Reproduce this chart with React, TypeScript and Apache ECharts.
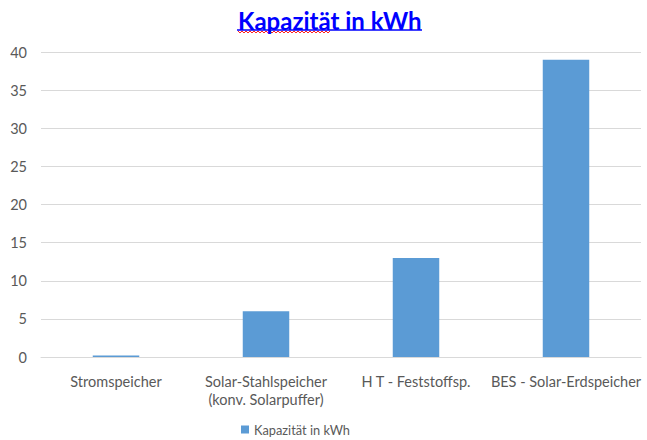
import React, { useEffect, useRef } from "react";
import * as echarts from "echarts";

const categories = [
  "Stromspeicher",
  "Solar-Stahlspeicher\n(konv. Solarpuffer)",
  "H T - Feststoffsp.",
  "BES - Solar-Erdspeicher",
];
const values = [0.2, 6, 13, 39];
const seriesName = "Kapazität in kWh";
const titleText = "Kapazität in kWh";

export default function App() {
  const ref = useRef<HTMLDivElement>(null);
  useEffect(() => {
    document.body.style.margin = "0";
    if (!ref.current) return;
    const chart = echarts.init(ref.current, null, { renderer: "svg" });
    const font = "Lato, 'Open Sans', sans-serif";
    const squiggle: number[][] = [];
    for (let i = 0; i <= 46; i++) squiggle.push([238 + i * 2, i % 2 === 0 ? 31 : 33]);
    chart.setOption({
      animation: false,
      title: {
        text: titleText,
        left: 233,
        top: 3,
        textStyle: { color: "#0000FF", fontSize: 24, fontWeight: "bold", fontFamily: font },
      },
      graphic: [
        { type: "line", shape: { x1: 237, y1: 30, x2: 422, y2: 30 }, style: { stroke: "#0000FF", lineWidth: 1.5 } },
        { type: "polyline", shape: { points: squiggle }, style: { stroke: "#FF2020", lineWidth: 1, fill: null } },
      ],
      grid: { left: 41, right: 6, top: 52, bottom: 83 },
      legend: {
        bottom: 4,
        left: 241,
        padding: 0,
        itemWidth: 8,
        itemHeight: 8,
        icon: "rect",
        itemGap: 4,
        textStyle: { color: "#595959", fontSize: 12.8, fontFamily: font },
        data: [seriesName],
      },
      xAxis: {
        type: "category",
        data: categories,
        axisLine: { lineStyle: { color: "#D9D9D9" } },
        axisTick: { show: false },
        axisLabel: { color: "#595959", fontSize: 14.5, fontFamily: font, margin: 15, lineHeight: 18, interval: 0 },
      },
      yAxis: {
        type: "value",
        min: 0,
        max: 40,
        interval: 5,
        axisLine: { show: false },
        axisTick: { show: false },
        splitLine: { lineStyle: { color: "#D9D9D9" } },
        axisLabel: { color: "#595959", fontSize: 14.5, fontFamily: font, margin: 14 },
      },
      series: [
        {
          name: seriesName,
          type: "bar",
          data: values,
          barWidth: "31%",
          itemStyle: { color: "#5B9BD5" },
        },
      ],
    });
    return () => chart.dispose();
  }, []);
  return <div ref={ref} style={{ width: 647, height: 440 }} />;
}
